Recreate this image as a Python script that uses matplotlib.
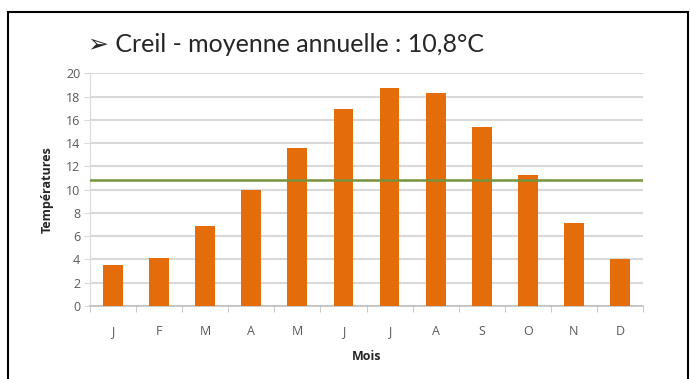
import matplotlib
matplotlib.use("Agg")
import matplotlib.pyplot as plt
from matplotlib.patches import Rectangle

# Données
mois = ["J", "F", "M", "A", "M", "J", "J", "A", "S", "O", "N", "D"]
temperatures = [3.5, 4.1, 6.9, 10.0, 13.6, 16.9, 18.7, 18.3, 15.4, 11.3, 7.1, 4.0]
moyenne = 10.8
y_ticks = list(range(0, 21, 2))

plt.rcParams['font.family'] = ['Open Sans', 'DejaVu Sans']

fig = plt.figure(figsize=(6.9, 3.79), dpi=100)
ax = fig.add_axes([0.1304, 0.1926, 0.8016, 0.614])

x = list(range(len(mois)))
ax.bar(x, temperatures, width=0.43, color="#E46C0A", zorder=3)
ax.axhline(moyenne, color="#77933C", lw=1.8, zorder=4)

ax.set_xlim(-0.5, len(mois) - 0.5)
ax.set_ylim(0, 20)
ax.set_yticks(y_ticks)
ax.yaxis.grid(True, color="#D9D9D9", lw=1.5, zorder=0)
ax.set_xticks(x)
ax.set_xticklabels(mois)
ax.set_xticks([i + 0.5 for i in range(-1, len(mois))], minor=True)
ax.tick_params(axis="x", which="major", length=0, pad=14, labelsize=9, labelcolor="#595959")
ax.tick_params(axis="x", which="minor", length=4, color="#BFBFBF")
ax.tick_params(axis="y", length=4, color="#D9D9D9", labelsize=9, labelcolor="#595959", pad=3)

for s in ["top", "right"]:
    ax.spines[s].set_visible(False)
ax.spines["left"].set_color("#D9D9D9")
ax.spines["bottom"].set_color("#BFBFBF")
ax.spines["bottom"].set_linewidth(1.2)

ax.set_ylabel("Températures", fontsize=9, fontweight="bold", color="#262626", labelpad=9)
ax.set_xlabel("Mois", fontsize=9, fontweight="bold", color="#262626", labelpad=8)

fig.text(0.1275, 1 - 52 / 379, "\u27a2 Creil - moyenne annuelle : 10,8°C",
         fontsize=18, color="#262626", va="baseline", ha="left",
         family=["Lato", "DejaVu Sans"])

# cadre noir
fig.patches.append(Rectangle((8 / 690, -0.02), 680 / 690, 1 - 12 / 379 + 0.02,
                             transform=fig.transFigure, fill=False,
                             edgecolor="black", lw=1.5))

fig.savefig("out.png", dpi=100)
